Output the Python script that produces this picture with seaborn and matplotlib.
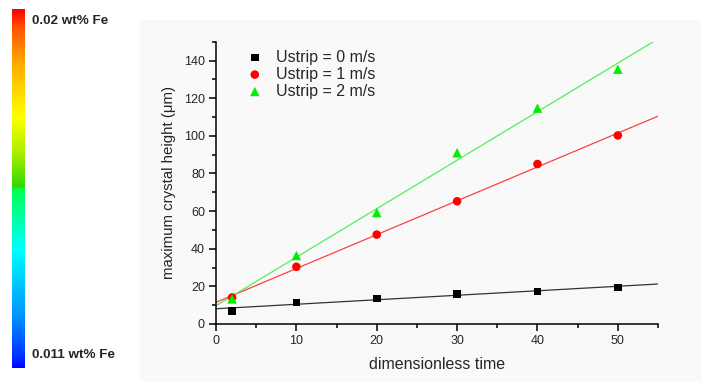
import numpy as np
import pandas as pd
import matplotlib
matplotlib.use("Agg")
import matplotlib.pyplot as plt
from matplotlib.colors import LinearSegmentedColormap
from matplotlib.cm import ScalarMappable
from matplotlib.patches import Rectangle
from matplotlib.ticker import MultipleLocator
import seaborn as sns

# Measured crystal heights versus dimensionless time for three strip speeds
time = [2, 10, 20, 30, 40, 50]
height_0 = [7.0, 11.5, 13.6, 16.1, 17.3, 19.4]
height_1 = [14.1, 30.4, 47.5, 65.2, 85.0, 100.2]
height_2 = [13.3, 36.4, 59.2, 91.0, 114.7, 135.4]
series_labels = ["Ustrip = 0 m/s", "Ustrip = 1 m/s", "Ustrip = 2 m/s"]
fe_labels = ["0.02 wt% Fe", "0.011 wt% Fe"]

sns.set_style("ticks")
plt.rcParams["font.family"] = ["Liberation Sans", "DejaVu Sans"]

fig = plt.figure(figsize=(7.01, 3.82), dpi=100)
fig.patch.set_facecolor("white")

# light panel behind the chart
fig.add_artist(Rectangle((140 / 701, 0), 1 - 140 / 701, 1 - 20 / 382,
                         transform=fig.transFigure, facecolor="#f9f9f9",
                         edgecolor="none", zorder=0))

ax = fig.add_axes([216 / 701, 58 / 382, 442 / 701, 282.3 / 382])
ax.set_facecolor("none")
ax.set_xlim(0, 55)
ax.set_ylim(0, 150)

styles = [
    dict(marker="s", color="black", line="#333333", s=30),
    dict(marker="o", color="#ff0000", line="#ff4040", s=38),
    dict(marker="^", color="#00ee00", line="#55ee55", s=46),
]
for ys, lab, st in zip([height_0, height_1, height_2], series_labels, styles):
    df = pd.DataFrame({"t": time, "h": ys})
    sns.regplot(data=df, x="t", y="h", ax=ax, ci=None, truncate=False,
                scatter=False, line_kws=dict(color=st["line"], lw=0.9, zorder=2))
    sns.scatterplot(data=df, x="t", y="h", ax=ax, marker=st["marker"],
                    color=st["color"], s=st["s"], edgecolor="none", zorder=3,
                    label=lab)

ax.set_xlim(0, 55)
ax.set_ylim(0, 150)
ax.xaxis.set_major_locator(MultipleLocator(10))
ax.xaxis.set_minor_locator(MultipleLocator(5))
ax.yaxis.set_major_locator(MultipleLocator(20))
ax.yaxis.set_minor_locator(MultipleLocator(10))
ax.tick_params(which="major", direction="out", length=5, width=1.1,
               labelsize=9, color="black", pad=3)
ax.tick_params(which="minor", direction="out", length=3, width=1.1,
               color="black")
ax.set_yticks(range(0, 141, 20))
for sp in ["top", "right"]:
    ax.spines[sp].set_visible(False)
for sp in ["left", "bottom"]:
    ax.spines[sp].set_linewidth(1.1)
    ax.spines[sp].set_color("black")
ax.set_xlabel("dimensionless time", fontsize=11.5, labelpad=7)
ax.set_ylabel("maximum crystal height (μm)", fontsize=10.8, labelpad=6)

ax.legend(loc="upper left", bbox_to_anchor=(0.03, 1.005), frameon=False,
          fontsize=11.5, handletextpad=0.35, labelspacing=0.12,
          borderaxespad=0.2)

# concentration colour bar
cmap = LinearSegmentedColormap.from_list("fe", [
    (0.0, "#0000ff"), (0.03, "#0030ff"), (0.14, "#0090ff"),
    (0.33, "#00ffff"), (0.50, "#00ff50"), (0.505, "#30d800"),
    (0.60, "#aaee00"), (0.70, "#ffff00"), (0.85, "#ffaa00"),
    (0.95, "#ff5000"), (1.0, "#ff0000")])
cax = fig.add_axes([12.3 / 701, 14 / 382, 12.7 / 701, 359 / 382])
cb = fig.colorbar(ScalarMappable(cmap=cmap), cax=cax)
cb.outline.set_visible(False)
cax.set_yticks([])
cax.set_xticks([])
fig.text(32 / 701, 1 - 21 / 382, fe_labels[0], fontsize=9.7, fontweight="bold",
         va="center", ha="left")
fig.text(32 / 701, 1 - 355 / 382, fe_labels[1], fontsize=9.7, fontweight="bold",
         va="center", ha="left")

fig.savefig("out.png", dpi=100)
